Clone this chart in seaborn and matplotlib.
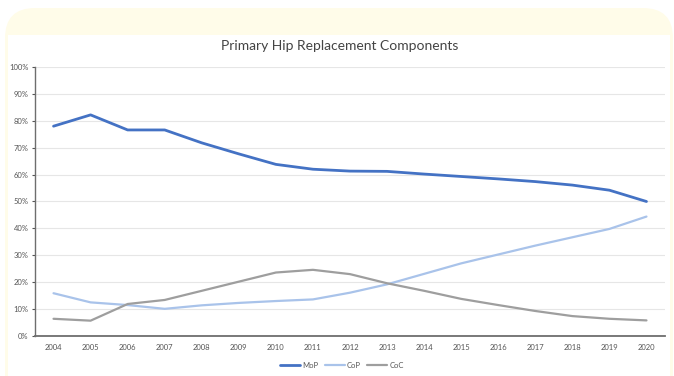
import matplotlib
matplotlib.use("Agg")
import matplotlib.pyplot as plt
import seaborn as sns
import pandas as pd
from matplotlib.patches import FancyBboxPatch, Rectangle
from matplotlib.ticker import PercentFormatter

years = list(range(2004, 2021))
mop = [78.0, 82.2, 76.6, 76.6, 71.8, 67.7, 63.8, 62.0, 61.3, 61.2, 60.2, 59.3, 58.4, 57.4, 56.1, 54.2, 50.0]
cop = [15.9, 12.5, 11.5, 10.1, 11.4, 12.3, 13.0, 13.6, 16.1, 19.2, 23.1, 27.0, 30.3, 33.6, 36.7, 39.8, 44.4]
coc = [6.4, 5.7, 11.9, 13.4, 16.8, 20.2, 23.6, 24.6, 23.0, 19.6, 16.8, 13.8, 11.5, 9.3, 7.4, 6.4, 5.8]
series_names = ["MoP", "CoP", "CoC"]
title = "Primary Hip Replacement Components"

df = pd.DataFrame({
    "year": years * 3,
    "value": mop + cop + coc,
    "series": ["MoP"] * len(years) + ["CoP"] * len(years) + ["CoC"] * len(years),
})

sns.set_theme(style="white")
plt.rcParams['font.family'] = ['Lato', 'DejaVu Sans']

fig = plt.figure(figsize=(6.74, 3.76), dpi=100)
fig.patch.set_facecolor("white")
W, H = 674, 376
# pale yellow rounded frame (in inches)
bg = FancyBboxPatch((0.05, -0.5), 6.68, 3.68 + 0.5, boxstyle="round,pad=0,rounding_size=0.3",
                    transform=fig.dpi_scale_trans, facecolor="#FFFCE9", edgecolor="none", zorder=-3)
fig.patches.append(bg)
inner = Rectangle((0.08, -0.1), 6.62, 3.41 + 0.1, transform=fig.dpi_scale_trans,
                  facecolor="white", edgecolor="none", zorder=-2)
fig.patches.append(inner)

ax = fig.add_axes([35 / W, 1 - 336 / H, (665 - 35) / W, (336 - 67) / H])
ax.set_facecolor("none")

palette = {"MoP": "#4472C4", "CoP": "#A9C3EA", "CoC": "#9E9E9E"}
sizes = {"MoP": 2.0, "CoP": 1.6, "CoC": 1.6}
sns.lineplot(data=df, x="year", y="value", hue="series", hue_order=series_names,
             palette=palette, size="series", sizes=sizes, size_order=series_names,
             ax=ax, legend=False)

ax.set_xlim(2003.5, 2020.5)
ax.set_ylim(0, 100)
ax.set_xticks(years)
ax.set_xticklabels([str(y) for y in years], fontsize=5.5, color="#555555")
ax.set_yticks(range(0, 101, 10))
ax.yaxis.set_major_formatter(PercentFormatter(decimals=0))
ax.tick_params(axis="y", labelsize=5.5, labelcolor="#555555", length=2.5, width=0.8,
               color="#555555", direction="out", left=True, pad=2)
ax.tick_params(axis="x", length=0, pad=6)
ax.grid(axis="y", color="#E6E6E6", linewidth=0.8)
ax.set_axisbelow(True)
ax.set_xlabel("")
ax.set_ylabel("")
for s in ["top", "right"]:
    ax.spines[s].set_visible(False)
ax.spines["left"].set_color("#6E6E6E")
ax.spines["left"].set_linewidth(1.0)
ax.spines["bottom"].set_color("#6E6E6E")
ax.spines["bottom"].set_linewidth(1.3)

fig.text(340 / W, 1 - 46 / H, title, ha="center", va="center", fontsize=10, color="#444444")

handles = [plt.Line2D([], [], color=palette[n], linewidth=sizes[n]) for n in series_names]
fig.legend(handles, series_names, loc="center", bbox_to_anchor=(342 / W, 1 - 365 / H),
           ncol=3, frameon=False, fontsize=5.5, handlelength=2.6, handletextpad=0.3,
           columnspacing=0.8, labelcolor="#555555")

fig.savefig("out.png", dpi=100)
